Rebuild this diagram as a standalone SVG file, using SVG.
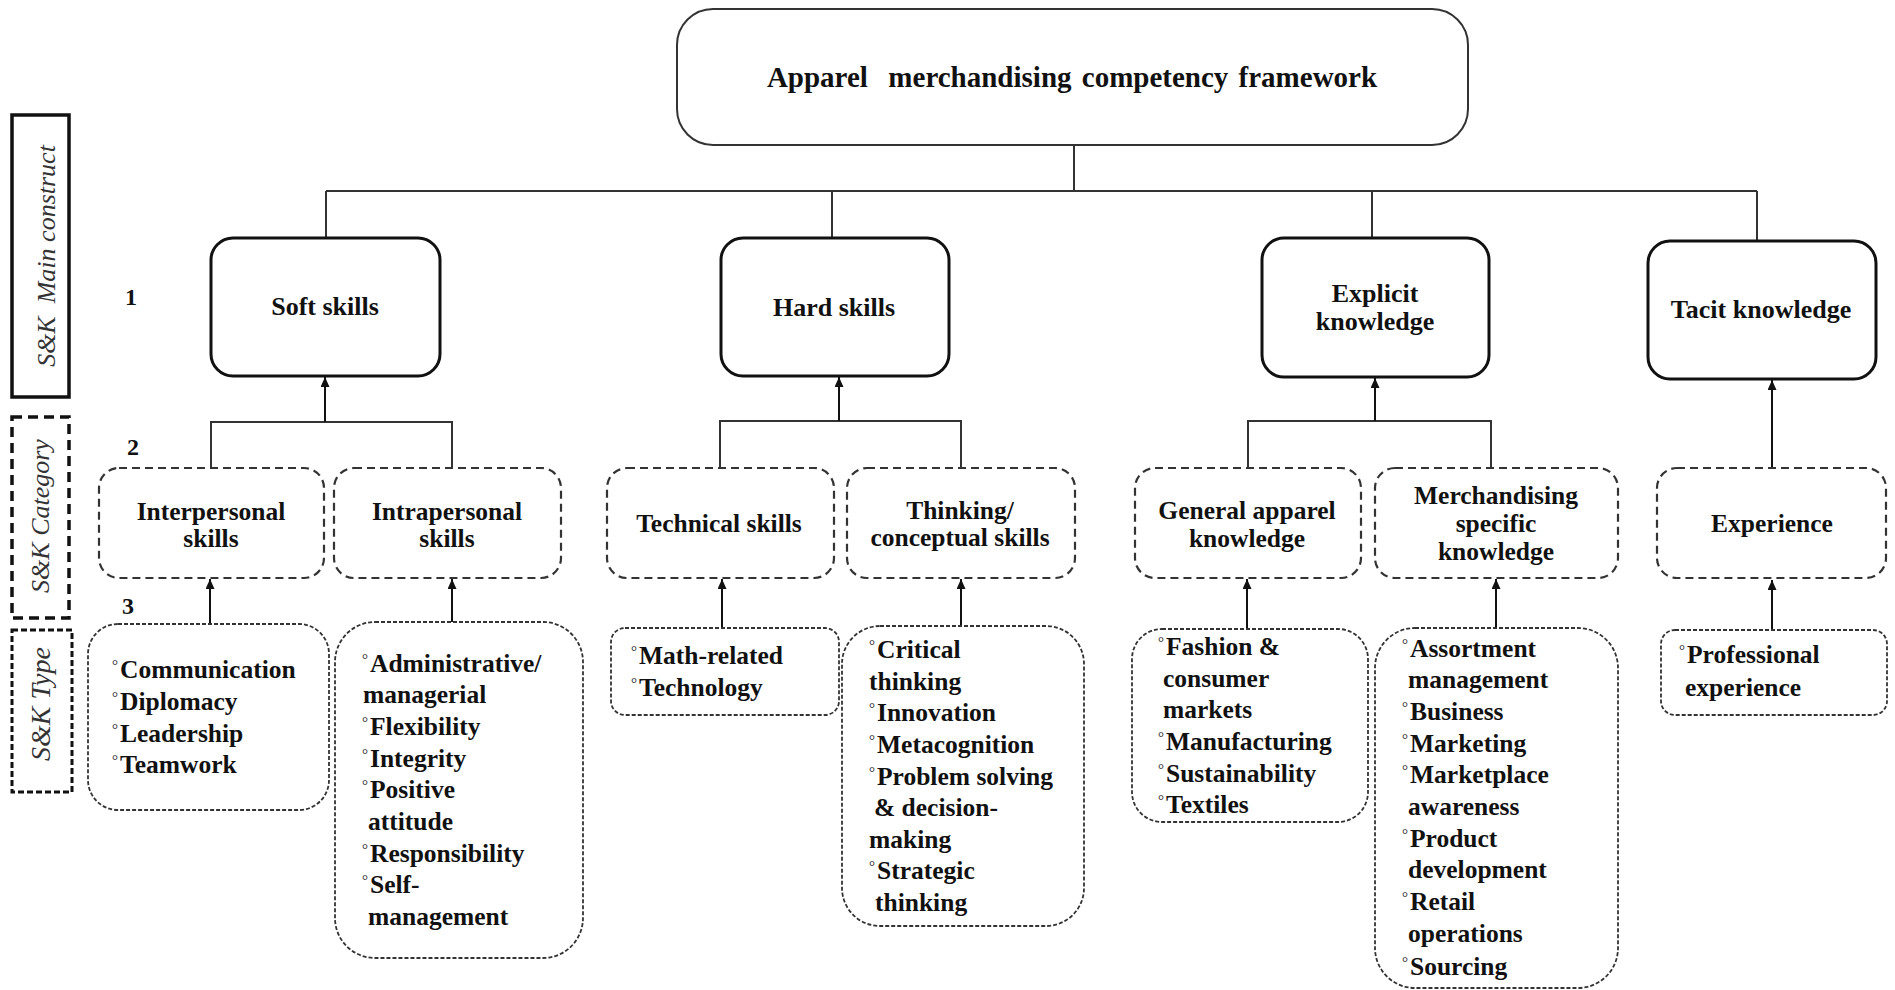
<svg xmlns="http://www.w3.org/2000/svg" width="1895" height="990" viewBox="0 0 1895 990">
<style>
text{font-family:"Liberation Serif","Times New Roman",serif;fill:#111;}
.t{font-weight:bold;font-size:29px;text-anchor:middle;word-spacing:3px;}
.l1{font-weight:bold;font-size:26px;text-anchor:middle;}
.l2{font-weight:bold;font-size:25.5px;text-anchor:middle;}
.l3{font-weight:bold;font-size:25.5px;}
.d{font-size:15px;font-weight:normal;}
.num{font-weight:bold;font-size:24px;text-anchor:middle;}
.side{font-style:italic;font-size:26px;text-anchor:middle;fill:#333;}
.b0{fill:#fff;stroke:#333;stroke-width:2;}
.b1{fill:#fff;stroke:#111;stroke-width:3;}
.b2{fill:#fff;stroke:#333;stroke-width:2.2;stroke-dasharray:8 5;}
.b3{fill:#fff;stroke:#333;stroke-width:1.8;stroke-dasharray:4 2;}
.c{fill:none;stroke:#333;stroke-width:2;}
.a{fill:none;stroke:#111;stroke-width:2;marker-end:url(#ah);}
</style>
<defs>
<marker id="ah" markerUnits="userSpaceOnUse" markerWidth="10" markerHeight="10" refX="10" refY="4.5" orient="auto">
<path d="M0,0 L10,4.5 L0,9 z" fill="#111"/>
</marker>
</defs>

<g id="legend">
<g id="main-construct-label">
<rect x="12" y="115" width="57" height="282" fill="none" stroke="#111" stroke-width="3.5"/>
<text class="side" xml:space="preserve" transform="translate(55,256) rotate(-90)">S&amp;K  Main construct</text>
</g>
<g id="category-label">
<rect x="12" y="417" width="57" height="201" fill="none" stroke="#111" stroke-width="3.5" stroke-dasharray="10 6"/>
<text class="side" transform="translate(49,516) rotate(-90)">S&amp;K Category</text>
</g>
<g id="type-label">
<rect x="12" y="630" width="60" height="162" fill="none" stroke="#111" stroke-width="3" stroke-dasharray="6 3"/>
<text class="side" style="font-size:28px" transform="translate(50,704) rotate(-90)">S&amp;K Type</text>
</g>
<text class="num" x="131" y="305">1</text>
<text class="num" x="133" y="455">2</text>
<text class="num" x="128" y="614">3</text>
</g>

<g id="connectors">
<path class="c" d="M1074,145 V191 M326,191 H1757 M326,191 V238 M832,191 V238 M1372,191 V238 M1757,191 V241"/>
<path class="c" d="M211,468 V422 H452 V468 M720,468 V421 H961 V468 M1248,468 V421 H1491 V468"/>
<path class="a" d="M325,422 V377"/>
<path class="a" d="M839,421 V377"/>
<path class="a" d="M1375,421 V378"/>
<path class="a" d="M1772,468 V380"/>
<path class="a" d="M210,624 V579"/>
<path class="a" d="M452,622 V579"/>
<path class="a" d="M722,628 V579"/>
<path class="a" d="M961,626 V579"/>
<path class="a" d="M1247,629 V579"/>
<path class="a" d="M1496,628 V579"/>
<path class="a" d="M1772,630 V580"/>
</g>

<g id="framework">
<rect class="b0" x="677" y="9" width="791" height="136" rx="36"/>
<text class="t" xml:space="preserve" x="1072" y="87">Apparel  merchandising competency framework</text>
</g>

<g id="soft-skills">
<rect class="b1" x="211" y="238" width="229" height="138" rx="22"/>
<text class="l1" x="325" y="315">Soft skills</text>
</g>
<g id="hard-skills">
<rect class="b1" x="721" y="238" width="228" height="138" rx="22"/>
<text class="l1" x="834" y="316">Hard skills</text>
</g>
<g id="explicit-knowledge">
<rect class="b1" x="1262" y="238" width="227" height="139" rx="22"/>
<text class="l1" x="1375" y="302">Explicit</text>
<text class="l1" x="1375" y="330">knowledge</text>
</g>
<g id="tacit-knowledge">
<rect class="b1" x="1648" y="241" width="228" height="138" rx="22"/>
<text class="l1" x="1761" y="318">Tacit knowledge</text>
</g>

<g id="interpersonal-skills">
<rect class="b2" x="99" y="468" width="225" height="110" rx="20"/>
<text class="l2" x="211" y="520">Interpersonal</text>
<text class="l2" x="211" y="547">skills</text>
</g>
<g id="intrapersonal-skills">
<rect class="b2" x="334" y="468" width="227" height="110" rx="20"/>
<text class="l2" x="447" y="520">Intrapersonal</text>
<text class="l2" x="447" y="547">skills</text>
</g>
<g id="technical-skills">
<rect class="b2" x="607" y="468" width="227" height="110" rx="20"/>
<text class="l2" x="719" y="532">Technical skills</text>
</g>
<g id="thinking-skills">
<rect class="b2" x="847" y="468" width="228" height="110" rx="20"/>
<text class="l2" x="960" y="519">Thinking/</text>
<text class="l2" x="960" y="546">conceptual skills</text>
</g>
<g id="general-apparel-knowledge">
<rect class="b2" x="1135" y="468" width="226" height="110" rx="20"/>
<text class="l2" x="1247" y="519">General apparel</text>
<text class="l2" x="1247" y="547">knowledge</text>
</g>
<g id="merchandising-knowledge">
<rect class="b2" x="1375" y="468" width="243" height="110" rx="20"/>
<text class="l2" x="1496" y="504">Merchandising</text>
<text class="l2" x="1496" y="532">specific</text>
<text class="l2" x="1496" y="560">knowledge</text>
</g>
<g id="experience">
<rect class="b2" x="1657" y="468" width="229" height="110" rx="20"/>
<text class="l2" x="1772" y="532">Experience</text>
</g>

<g id="interpersonal-types">
<rect class="b3" x="88" y="624" width="241" height="186" rx="30"/>
<text class="l3">
<tspan class="d" x="112" y="670">°</tspan><tspan x="120" y="678">Communication</tspan>
<tspan class="d" x="112" y="702">°</tspan><tspan x="120" y="710">Diplomacy</tspan>
<tspan class="d" x="112" y="734">°</tspan><tspan x="120" y="742">Leadership</tspan>
<tspan class="d" x="112" y="765">°</tspan><tspan x="120" y="773">Teamwork</tspan>
</text>
</g>
<g id="intrapersonal-types">
<rect class="b3" x="335" y="622" width="248" height="336" rx="40"/>
<text class="l3">
<tspan class="d" x="362" y="664">°</tspan><tspan x="370" y="672">Administrative/</tspan>
<tspan x="363" y="703">managerial</tspan>
<tspan class="d" x="362" y="727">°</tspan><tspan x="370" y="735">Flexibility</tspan>
<tspan class="d" x="362" y="759">°</tspan><tspan x="370" y="767">Integrity</tspan>
<tspan class="d" x="362" y="790">°</tspan><tspan x="370" y="798">Positive</tspan>
<tspan x="368" y="830">attitude</tspan>
<tspan class="d" x="362" y="854">°</tspan><tspan x="370" y="862">Responsibility</tspan>
<tspan class="d" x="362" y="885">°</tspan><tspan x="370" y="893">Self-</tspan>
<tspan x="368" y="925">management</tspan>
</text>
</g>
<g id="technical-types">
<rect class="b3" x="611" y="628" width="228" height="87" rx="14"/>
<text class="l3">
<tspan class="d" x="631" y="656">°</tspan><tspan x="639" y="664">Math-related</tspan>
<tspan class="d" x="631" y="688">°</tspan><tspan x="639" y="696">Technology</tspan>
</text>
</g>
<g id="thinking-types">
<rect class="b3" x="842" y="626" width="242" height="300" rx="38"/>
<text class="l3">
<tspan class="d" x="869" y="650">°</tspan><tspan x="877" y="658">Critical</tspan>
<tspan x="869" y="690">thinking</tspan>
<tspan class="d" x="869" y="713">°</tspan><tspan x="877" y="721">Innovation</tspan>
<tspan class="d" x="869" y="745">°</tspan><tspan x="877" y="753">Metacognition</tspan>
<tspan class="d" x="869" y="777">°</tspan><tspan x="877" y="785">Problem solving</tspan>
<tspan x="874" y="816">&amp; decision-</tspan>
<tspan x="869" y="848">making</tspan>
<tspan class="d" x="869" y="871">°</tspan><tspan x="877" y="879">Strategic</tspan>
<tspan x="875" y="911">thinking</tspan>
</text>
</g>
<g id="general-types">
<rect class="b3" x="1132" y="629" width="236" height="193" rx="30"/>
<text class="l3">
<tspan class="d" x="1158" y="647">°</tspan><tspan x="1166" y="655">Fashion &amp;</tspan>
<tspan x="1163" y="687">consumer</tspan>
<tspan x="1163" y="718">markets</tspan>
<tspan class="d" x="1158" y="742">°</tspan><tspan x="1166" y="750">Manufacturing</tspan>
<tspan class="d" x="1158" y="774">°</tspan><tspan x="1166" y="782">Sustainability</tspan>
<tspan class="d" x="1158" y="805">°</tspan><tspan x="1166" y="813">Textiles</tspan>
</text>
</g>
<g id="merchandising-types">
<rect class="b3" x="1375" y="628" width="243" height="360" rx="40"/>
<text class="l3">
<tspan class="d" x="1402" y="649">°</tspan><tspan x="1410" y="657">Assortment</tspan>
<tspan x="1408" y="688">management</tspan>
<tspan class="d" x="1402" y="712">°</tspan><tspan x="1410" y="720">Business</tspan>
<tspan class="d" x="1402" y="744">°</tspan><tspan x="1410" y="752">Marketing</tspan>
<tspan class="d" x="1402" y="775">°</tspan><tspan x="1410" y="783">Marketplace</tspan>
<tspan x="1408" y="815">awareness</tspan>
<tspan class="d" x="1402" y="839">°</tspan><tspan x="1410" y="847">Product</tspan>
<tspan x="1408" y="878">development</tspan>
<tspan class="d" x="1402" y="902">°</tspan><tspan x="1410" y="910">Retail</tspan>
<tspan x="1408" y="942">operations</tspan>
<tspan class="d" x="1402" y="967">°</tspan><tspan x="1410" y="975">Sourcing</tspan>
</text>
</g>
<g id="experience-types">
<rect class="b3" x="1661" y="630" width="226" height="85" rx="14"/>
<text class="l3">
<tspan class="d" x="1679" y="655">°</tspan><tspan x="1687" y="663">Professional</tspan>
<tspan x="1685" y="696">experience</tspan>
</text>
</g>
</svg>
